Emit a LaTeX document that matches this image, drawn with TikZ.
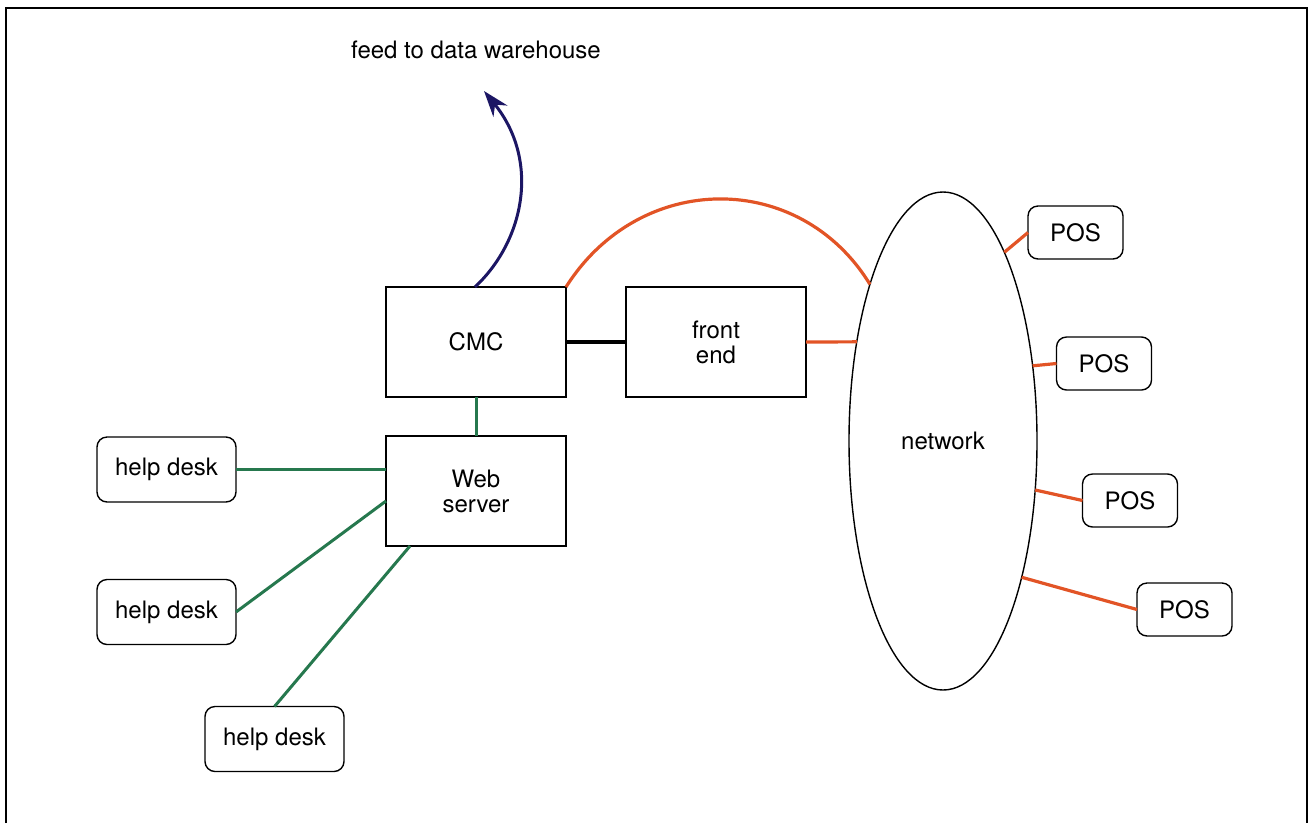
\documentclass[tikz,border=0pt]{standalone}
\usepackage{fontspec}
\setmainfont{TeX Gyre Heros}
\usetikzlibrary{shapes.geometric,arrows.meta}
\definecolor{linkorange}{RGB}{226,84,38}
\definecolor{linkgreen}{RGB}{38,120,78}
\definecolor{feednavy}{RGB}{28,22,100}
\tikzset{
  every node/.style={font=\fontsize{24}{28}\selectfont, inner sep=0pt, outer sep=0pt},
  squarebox/.style={draw, line width=1.4pt, minimum width=180pt, minimum height=110pt, align=center},
  roundbox/.style={draw, line width=1.4pt, rounded corners=10pt},
  deskbox/.style={roundbox, minimum width=139pt, minimum height=65pt},
  posbox/.style={roundbox, minimum width=95pt, minimum height=53pt},
  orangelink/.style={draw=linkorange, line width=3.2pt},
  greenlink/.style={draw=linkgreen, line width=3pt},
}
\begin{document}
\begin{tikzpicture}[x=1pt, y=-1pt]
\useasboundingbox (0,0) rectangle (1313,823);
% open frame around the figure
\draw[line width=2.2pt] (6,823) -- (6,8) -- (1307,8) -- (1307,823);

% central systems
\node[squarebox] (cmc) at (476,342) {CMC};
\node[squarebox] (fe) at (716,342) {front\\[-3pt]end};
\node[squarebox] (web) at (476,491) {Web\\[-3pt]server};

% help desks
\node[deskbox] (hd1) at (166.5,469.5) {help desk};
\node[deskbox] (hd2) at (166.5,612) {help desk};
\node[deskbox] (hd3) at (274.5,739) {help desk};

% network cloud
\node[ellipse, draw, line width=1.4pt, minimum width=188pt, minimum height=498pt] (net) at (943,441) {network};

% points of sale
\node[posbox] (pos1) at (1075.5,232.5) {POS};
\node[posbox] (pos2) at (1104,363.5) {POS};
\node[posbox] (pos3) at (1130,500.5) {POS};
\node[posbox] (pos4) at (1184.5,609.5) {POS};

% warehouse feed
\node (feed) at (476,50) {feed to data warehouse};
\coordinate (feedtip) at (484,91);
\draw[feednavy, line width=3pt, -{Stealth[length=26pt, width=18pt]}]
  ([xshift=-1pt]cmc.north) .. controls (525,240) and (540,160) .. (feedtip);

% connectors
\draw[line width=3.2pt] (cmc.east) -- (fe.west);
\draw[greenlink] (cmc.south) -- (web.north);
\draw[greenlink] (hd1.east) -- (hd1.east -| web.west);
\draw[greenlink] (hd2.east) -- ([yshift=-10pt]web.west);
\draw[greenlink] (hd3.north) -- ([xshift=24pt]web.south west);

\draw[orangelink] (cmc.north east) .. controls (640,170) and (800,170) .. (net.115.8);
\draw[orangelink] (fe.east) -- (net.131.4);
\draw[orangelink] (net.72.5) -- (pos1.west);
\draw[orangelink] (net.40.9) -- (pos2.west);
\draw[orangelink] (net.-28.5) -- (pos3.west);
\draw[orangelink] (net.-60) -- (pos4.west);
\end{tikzpicture}
\end{document}
